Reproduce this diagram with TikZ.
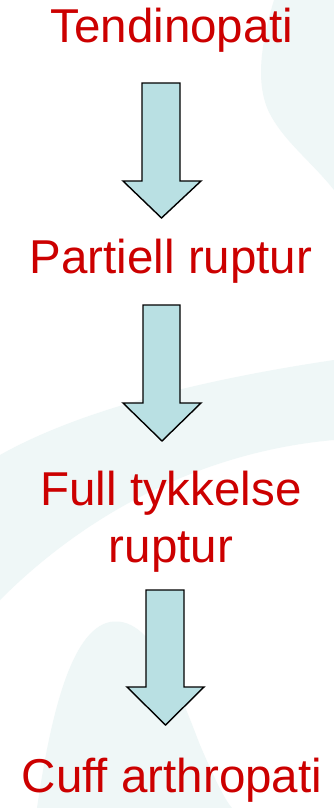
\documentclass[tikz,border=0pt]{standalone}
\usepackage{fontspec}
\setmainfont{Liberation Sans}
\definecolor{txtred}{HTML}{CC0000}
\definecolor{arrowfill}{HTML}{B9E0E3}
\definecolor{bgteal}{HTML}{EFF7F7}
\tikzset{
  label/.style={text=txtred, font=\fontsize{47.5}{57}\selectfont, inner sep=0pt, anchor=base, align=center},
  blockarrow/.style={draw=black, fill=arrowfill, line width=1.4pt, line join=miter},
  swirl/.style={fill=bgteal, draw=none}
}
\begin{document}
\begin{tikzpicture}[x=1pt,y=-1pt]
\useasboundingbox (0,0) rectangle (334,808);
\fill[white] (0,0) rectangle (334,808);
% background swirls
\fill[swirl] (274,0) .. controls (262,40) and (255,80) .. (268,110)
  .. controls (282,140) and (310,160) .. (334,190) -- (334,0) -- cycle;
\fill[swirl] (0,455) .. controls (80,410) and (200,380) .. (334,360)
  -- (334,440) .. controls (220,450) and (100,500) .. (0,600) -- cycle;
\fill[swirl] (37,808) .. controls (50,720) and (70,630) .. (110,622)
  .. controls (150,615) and (175,680) .. (200,745)
  .. controls (215,780) and (225,800) .. (232,808) -- cycle;
% labels
\node[label] (t1) at (172,43) {Tendinopati};
\node[label] (t2) at (171,273) {Partiell ruptur};
\node[label] (t3) at (171,562) {Full tykkelse\\ruptur};
\node[label] (t4) at (172,792) {Cuff arthropati};
% block arrows
\draw[blockarrow] (142,83) -- (180,83) -- (180,181) -- (201,181) -- (161.5,218) -- (123,181) -- (142,181) -- cycle;
\draw[blockarrow] (143,305) -- (180,305) -- (180,403) -- (201,403) -- (162,441) -- (123,403) -- (143,403) -- cycle;
\draw[blockarrow] (146,590) -- (184,590) -- (184,687) -- (204,687) -- (165.5,725) -- (127,687) -- (146,687) -- cycle;
\end{tikzpicture}
\end{document}
